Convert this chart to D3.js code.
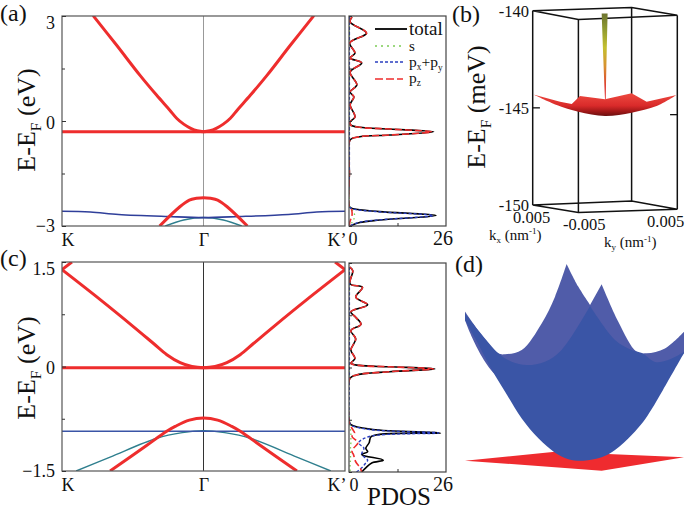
<!DOCTYPE html>
<html><head><meta charset="utf-8">
<script src="https://cdn.jsdelivr.net/npm/d3@7"></script>
<style>
html,body{margin:0;padding:0;background:#fff}
svg{display:block}
text{font-family:"Liberation Serif","Times New Roman",serif;fill:#111}
</style></head><body>
<script>
// --- Band structure panel (a)
const aUpperK=[-0.78,-0.615,-0.45,-0.332,-0.238,-0.19,-0.14,-0.09,-0.045,0,0.045,0.09,0.14,0.19,0.238,0.332,0.45,0.615,0.78];
const aUpperE=[3.01,2.17,1.31,0.74,0.31,0.08,-0.09,-0.21,-0.28,-0.305,-0.28,-0.21,-0.09,0.08,0.31,0.74,1.31,2.17,3.01];
const aFlatK=[-1,-0.5,0,0.5,1];
const aFlatE=[-0.31,-0.31,-0.305,-0.31,-0.31];
const aLowerK=[-0.31,-0.167,-0.1,-0.05,0,0.05,0.1,0.167,0.31];
const aLowerE=[-3,-2.45,-2.26,-2.21,-2.19,-2.21,-2.26,-2.45,-3];
const aBlueK=[-1,-0.8,-0.6,-0.25,0,0.25,0.6,0.8,1];
const aBlueE=[-2.58,-2.6,-2.67,-2.73,-2.76,-2.73,-2.67,-2.6,-2.58];
const aTealK=[-0.27,-0.14,0,0.14,0.27];
const aTealE=[-3,-2.83,-2.76,-2.83,-3];
// --- Band structure panel (c)
const cUpperK=[-1,-0.73,-0.494,-0.353,-0.259,-0.165,-0.082,0,0.082,0.165,0.259,0.353,0.494,0.73,1];
const cUpperE=[1.39,0.96,0.57,0.33,0.17,0.055,0,-0.017,0,0.055,0.17,0.33,0.57,0.96,1.39];
const cCornerLK=[-1,-0.93], cCornerLE=[1.39,1.5];
const cCornerRK=[0.93,1], cCornerRE=[1.5,1.39];
const cFlatK=[-1,0,1], cFlatE=[-0.017,-0.017,-0.017];
const cLowerK=[-0.66,-0.4,-0.26,-0.2,-0.1,0,0.1,0.2,0.26,0.4,0.66];
const cLowerE=[-1.5,-1.13,-0.93,-0.86,-0.77,-0.74,-0.77,-0.86,-0.93,-1.13,-1.5];
const cBlueK=[-1,0,1], cBlueE=[-0.93,-0.93,-0.93];
const cTealK=[-0.9,-0.66,-0.33,-0.15,0,0.15,0.33,0.66,0.9];
const cTealE=[-1.5,-1.30,-1.03,-0.95,-0.92,-0.95,-1.03,-1.30,-1.5];
// --- PDOS panel (a)
const aE=[2.97,2.83,2.51,2.23,1.94,1.8,1.66,1.4,1.03,.83,.69,.46,.12,-.03,-.11,-.18,-.23,-.31,-.40,-.45,-.54,-1.5,-2.45,-2.51,-2.59,-2.7,-2.83,-2.9,-3];
const aTotal=[.8,.3,4.7,.2,1.6,.3,3.4,.3,2.1,.3,1.3,.3,1.6,.3,.4,2.9,10.9,22.7,10.9,2.9,.3,.1,.1,1.2,8.2,23.3,8.2,2.9,.3];
const aPz=[.8,.3,4.7,.2,1.6,.3,3.4,.3,2.1,.3,1.3,.3,1.6,.3,.4,2.9,10.9,22.2,10.9,2.9,.3,.1,.1,.6,.8,.8,.4,.2,.1];
const aPxPy=[.1,.1,.1,.1,.1,.1,.1,.1,.1,.1,.1,.1,.1,.1,.1,.1,.1,.1,.1,.1,.1,.1,.1,1,7.6,22.5,7.6,2.5,.2];
const aS=[.05,.05,.05,.05,.05,.05,.05,.05,.05,.05,.05,.05,.05,.05,.05,.05,.05,.05,.05,.05,.05,.05,.2,.5,1.2,1.5,1.2,.8,.3];
// --- PDOS panel (c)
const cE=[1.44,1.39,1.2,1.15,1.01,.9,.8,.72,.62,.53,.41,.25,.13,.06,.03,.01,-.02,-.06,-.11,-.16,-.76,-.82,-.89,-.94,-.99,-1.08,-1.16,-1.21,-1.25,-1.33,-1.37,-1.44,-1.5];
const cTotal=[.2,1,.3,3.6,1.8,5,.5,1.8,3.2,.5,1.8,.5,1.6,.5,2.7,10.9,23,10.9,1.8,.2,0,.5,6.4,24.5,6,5.4,4.5,5,3.4,9.2,6.1,4.5,3.4];
const cPz=[.2,1,.3,3.6,1.8,5,.5,1.8,3.2,.5,1.8,.5,1.6,.5,2.7,10.9,22.6,10.9,1.8,.2,0,.2,1,1.5,.8,2.4,1.2,.8,1.2,1.6,2,3,3.4];
const cPxPy=[.1,.1,.1,.1,.1,.1,.1,.1,.1,.1,.1,.1,.1,.1,.1,.1,.1,.1,.1,.1,.1,.4,5.5,24,5.5,2.6,4,3.6,3.4,5,4.5,3.4,2];
const cS=[.05,.05,.05,.05,.05,.05,.05,.05,.05,.05,.05,.05,.05,.05,.05,.05,.05,.05,.05,.05,.1,.3,.4,.5,.5,.5,.4,.4,.4,.4,.3,.3,.3];
// --- Tick labels
const kLabels=["K","\u0393","K\u2019"];
const kTicks=[-1,0,1];
const aTicks=[-3,0,3], aMinor=[-1.5,1.5];
const cTicks=[-1.5,0,1.5], cMinor=[-0.75,0.75];
const legendNames=["total","s","px+py","pz"];
// --- Panel (b): outlines, [horizontal fraction of the box, energy in meV]
const bTopBox=[[0,-140],[.316,-140.45],[1,-140.24],[.684,-139.83]];
const bBotBox=[[0,-150],[.316,-150.38],[1,-150.22],[.684,-149.79]];
const bRim=[[.005,-144.31],[.189,-144.68],[.27,-144.80],[.327,-144.39],[.5,-144.56],[.684,-144.25],[.788,-144.68],[.995,-144.34]];
const bBelly=[[.995,-144.34],[.857,-144.91],[.684,-145.25],[.5,-145.42],[.316,-145.20],[.166,-144.85],[.005,-144.31]];
const bSpike=[[.477,-140.14],[.486,-142.02],[.495,-143.74],[.5,-144.56],[.505,-144.56],[.507,-143.74],[.512,-142.02],[.518,-140.14]];
const bETicks=[-140,-145,-150];
// --- Panel (d): outlines, [percent across, percent up]
const dBackA=[[0,75.8],[7.6,63.9],[15.2,54.6],[18.3,54.1],[25.9,56.3],[35,69.8],[41.1,83.4],[46.4,100]];
const dBackB=[[46.4,100],[51.7,88.5],[57.1,79.2]];
const dBackC=[[57.1,79.2],[62.4,89.7]];
const dBackD=[[62.4,89.7],[70,70.7],[78.4,55.4],[83,54.6],[91.3,57.1],[100,65.6]];
const dBackE=[[100,54.7],[85,40],[18,40],[0,71.5]];
const dFrontA=[[0,74.9],[15.2,54.6],[21.3,50.3],[28.2,48.6],[36.5,50.3],[44.1,56.3],[57.1,78.6]];
const dFrontB=[[57.1,78.6],[68.5,61.4],[76.1,56.3],[80.8,54.7],[86.8,50.2],[92.7,51.2],[100,55.3]];
const dBowl=[[100,54.7],[90.4,35.9],[85.2,26.1],[81.4,19.8],[76.1,13.1],[68.5,5.4],[62.4,1.7],[54,0],[47.2,0.8],[41.1,4.1],[33.5,11.4],[25.9,21.5],[18.3,35.1],[12.3,46.1],[4.6,62.2],[0,71.5]];
const dPlane=[[0,0],[41.1,4.6],[100,1.7],[62.4,-5.1]];

const RED="#ee2d2d",BLUE="#2f3f9a",TEAL="#2f7f8e";
const svg=d3.select("body").append("svg").attr("width",685).attr("height",510);
const defs=svg.append("defs");
const smooth=d3.curveCatmullRom.alpha(0.5);

function bandPanel(id,top,bottom,dom,ticks,minor,bands,gammaColor){
  const x=d3.scaleLinear([-1,1],[62,345]);
  const y=d3.scaleLinear(dom,[bottom,top]);
  defs.append("clipPath").attr("id",id).append("rect").attr("x",62).attr("y",top).attr("width",283).attr("height",bottom-top);
  const g=svg.append("g");
  const line=d3.line().x(d=>x(d[0])).y(d=>y(d[1])).curve(smooth);
  const gl=g.append("g").attr("clip-path",`url(#${id})`);
  gl.append("line").attr("x1",x(0)).attr("x2",x(0)).attr("y1",top).attr("y2",bottom).attr("stroke",gammaColor).attr("stroke-width",1);
  bands.forEach(b=>{
    gl.append("path").datum(d3.zip(b.k,b.e)).attr("d",line).attr("fill","none").attr("stroke",b.c).attr("stroke-width",b.w);
  });
  g.append("rect").attr("x",62).attr("y",top).attr("width",283).attr("height",bottom-top).attr("fill","none").attr("stroke","#555").attr("stroke-width",1.2);
  const ax=g.append("g").attr("transform","translate(62,0)").call(d3.axisLeft(y).tickValues(ticks).tickSize(-4).tickPadding(7).tickFormat(d=>d3.format("")(d)));
  ax.select(".domain").remove();
  ax.selectAll("text").style("font-size","18px").attr("fill","#111").attr("dy",(d,i)=>i===2?"0.71em":(i===0?"0.3em":"0.4em"));
  ax.selectAll("line").attr("stroke","#333");
  const mi=g.append("g").attr("transform","translate(62,0)").call(d3.axisLeft(y).tickValues(minor).tickSize(-3).tickFormat(""));
  mi.select(".domain").remove(); mi.selectAll("line").attr("stroke","#333");
  const bx=g.append("g").attr("transform",`translate(0,${bottom})`).call(d3.axisBottom(x).tickValues(kTicks).tickSize(0).tickPadding(7).tickFormat((d,i)=>kLabels[i]));
  bx.select(".domain").remove();
  bx.selectAll("text").style("font-size","18px").attr("fill","#111")
    .attr("text-anchor",(d,i)=>i===0?"start":i===2?"end":"middle")
    .attr("dx",(d,i)=>i===0?-1:i===2?1:0);
}
bandPanel("ca",16,226,[-3,3],aTicks,aMinor,[
 {k:aTealK,e:aTealE,c:TEAL,w:1.5},{k:aBlueK,e:aBlueE,c:BLUE,w:1.6},
 {k:aFlatK,e:aFlatE,c:RED,w:3},{k:aUpperK,e:aUpperE,c:RED,w:3},{k:aLowerK,e:aLowerE,c:RED,w:3}],"#999");
bandPanel("cc",262,471,[-1.5,1.5],cTicks,cMinor,[
 {k:cTealK,e:cTealE,c:TEAL,w:1.4},{k:cBlueK,e:cBlueE,c:"#3a55a6",w:1.6},
 {k:cFlatK,e:cFlatE,c:RED,w:3},{k:cUpperK,e:cUpperE,c:RED,w:3},{k:cLowerK,e:cLowerE,c:RED,w:3},
 {k:cCornerLK,e:cCornerLE,c:RED,w:3},{k:cCornerRK,e:cCornerRE,c:RED,w:3}],"#333");

function pdosPanel(id,top,bottom,dom,minor,E,series){
  const x=d3.scaleLinear([0,26],[349,446]);
  const y=d3.scaleLinear(dom,[bottom,top]);
  defs.append("clipPath").attr("id",id).append("rect").attr("x",349).attr("y",top).attr("width",97).attr("height",bottom-top);
  const g=svg.append("g");
  const line=d3.line().x(d=>x(d[0])).y(d=>y(d[1])).curve(smooth);
  const gl=g.append("g").attr("clip-path",`url(#${id})`);
  series.forEach(s=>{
    gl.append("path").datum(d3.zip(s.v,E)).attr("d",line).attr("fill","none").attr("stroke",s.c).attr("stroke-width",s.w).attr("stroke-dasharray",s.d);
  });
  g.append("rect").attr("x",349).attr("y",top).attr("width",97).attr("height",bottom-top).attr("fill","none").attr("stroke","#444").attr("stroke-width",1.2);
  const t=g.append("g").attr("transform",`translate(349,0)`).call(d3.axisLeft(y).tickValues(minor).tickSize(-3).tickFormat(""));
  t.select(".domain").remove(); t.selectAll("line").attr("stroke","#333");
  const bx=g.append("g").attr("transform",`translate(0,${bottom})`).call(d3.axisBottom(x).tickValues([13]).tickSize(-3).tickFormat(""));
  bx.select(".domain").remove(); bx.selectAll("line").attr("stroke","#333");
  return g;
}
const GREEN="#7ccc55",PB="#2b3fc0",PR="#ee2d2d";
pdosPanel("pa",16,226,[-3,3],aTicks.concat(aMinor),aE,[
 {v:aTotal,c:"#000",w:1.6,d:null},{v:aS,c:GREEN,w:1.3,d:"1.5 3"},{v:aPxPy,c:PB,w:1.4,d:"3 2"},{v:aPz,c:PR,w:1.6,d:"7 3"}]);
pdosPanel("pc",263,472,[-1.5,1.5],cTicks.concat(cMinor),cE,[
 {v:cTotal,c:"#000",w:1.6,d:null},{v:cS,c:GREEN,w:1.3,d:"1.5 3"},{v:cPxPy,c:PB,w:1.4,d:"3 2"},{v:cPz,c:PR,w:1.6,d:"7 3"}]);

function txt(x,y,s,size,anchor){return svg.append("text").attr("x",x).attr("y",y).style("font-size",size+"px").attr("text-anchor",anchor||"start").text(s);}
function txtSub(x,y,parts,size,rot,anchor){
  const t=svg.append("text").style("font-size",size+"px").attr("text-anchor",anchor||"start");
  if(rot) t.attr("transform",`translate(${x},${y}) rotate(-90)`); else t.attr("x",x).attr("y",y);
  parts.forEach(p=>{
    const ts=t.append("tspan").text(p[0]);
    if(p[1]==="sub") ts.style("font-size",(size*0.6)+"px").attr("dy",size*0.22);
    else if(p[1]==="sup") ts.style("font-size",(size*0.6)+"px").attr("dy",-size*0.35);
    else if(p[2]) ts.attr("dy",p[2]);
  });
  return t;
}
// Legend
const legendY=[29,46,62,79],legendC=["#000",GREEN,PB,PR],legendD=[null,"2 4","3 2","8 3"],legendW=[1.8,1.4,1.3,1.5];
legendNames.forEach((n,i)=>svg.append("line").attr("x1",375).attr("x2",i==0?407:403).attr("y1",legendY[i]).attr("y2",legendY[i]).attr("stroke",legendC[i]).attr("stroke-width",legendW[i]).attr("stroke-dasharray",legendD[i]));
txt(409,35,"total",19);
txt(409,51,"s",15);
txtSub(409,67,[["p"],["x","sub"],["+p",null,-3.3],["y","sub"]],15.5);
txtSub(409,83,[["p"],["z","sub"]],15.5);
// Panel letters
txt(0,21,"(a)",24);
txt(0,266,"(c)",24);
txt(452,22,"(b)",24);
txt(455,272,"(d)",24);
// Titles
txtSub(35,120,[["E-E"],["F","sub"],[" (eV)",null,-5.7]],26,true,"middle");
txtSub(35,368,[["E-E"],["F","sub"],[" (eV)",null,-5.7]],26,true,"middle");
txtSub(485,107,[["E-E"],["F","sub"],[" (meV)",null,-5.7]],26,true,"middle");
txt(399,504.5,"PDOS",25,"middle");
// PDOS tick labels
txt(353,245,"0",18,"middle");txt(443,245,"26",20,"middle");
txt(354,491,"0",18,"middle");txt(443,491,"26",20,"middle");

// Panel (b)
const bx=d3.scaleLinear([0,1],[532.7,677.3]);
const by=d3.scaleLinear([-140,-150],[10.7,205]);
const bLine=d3.line().x(d=>bx(d[0])).y(d=>by(d[1]));
const bSmooth=d3.line().x(d=>bx(d[0])).y(d=>by(d[1])).curve(smooth);
const bg=svg.append("g");
[bTopBox,bBotBox].forEach(c=>bg.append("path").attr("d",bLine(c)+"Z").attr("fill","none").attr("stroke","#111").attr("stroke-width",1.5));
bTopBox.forEach((c,i)=>bg.append("path").attr("d",bLine([c,bBotBox[i]])).attr("stroke","#111").attr("stroke-width",1.5));
const sg=defs.append("linearGradient").attr("id","surf").attr("gradientUnits","userSpaceOnUse").attr("x1",0).attr("x2",0).attr("y1",by(-144.25)).attr("y2",by(-145.42));
[[0,"#ee4a40"],[.55,"#d92a2a"],[.8,"#a01818"],[1,"#6a1010"]].forEach(s=>sg.append("stop").attr("offset",s[0]).attr("stop-color",s[1]));
const sp=defs.append("linearGradient").attr("id","spike").attr("gradientUnits","userSpaceOnUse").attr("x1",0).attr("x2",0).attr("y1",by(-140.14)).attr("y2",by(-144.56));
[[0,"#6d7430"],[.18,"#8f9a30"],[.4,"#c4c030"],[.62,"#d89030"],[.85,"#dd3a30"],[1,"#dd2a2a"]].forEach(s=>sp.append("stop").attr("offset",s[0]).attr("stop-color",s[1]));
bg.append("path").attr("d",bLine(bRim)+bSmooth(bBelly).replace(/^M/,"L")+"Z").attr("fill","url(#surf)");
bg.append("path").attr("d",bLine(bSpike)+"Z").attr("fill","url(#spike)");
bETicks.forEach(v=>{ txt(529,by(v)+6,String(v),16.5,"end"); });
bg.append("line").attr("x1",bx(0)).attr("x2",bx(.05)).attr("y1",by(-145)).attr("y2",by(-145)).attr("stroke","#111").attr("stroke-width",1.3);
bg.append("line").attr("x1",bx(.95)).attr("x2",bx(1)).attr("y1",by(-145.35)).attr("y2",by(-145.35)).attr("stroke","#111").attr("stroke-width",1.3);
txt(513,223,"0.005",16.5);
txt(563,230,"-0.005",16.5);
txt(647,227,"0.005",16.5);
txtSub(489,239.5,[["k"],["x","sub"],[" (nm",null,-3.3],["-1","sup"],[")",null,5.3]],15);
txtSub(604,247,[["k"],["y","sub"],[" (nm",null,-3.3],["-1","sup"],[")",null,5.3]],15);

// Panel (d)
const dx=d3.scaleLinear([0,100],[465,684]);
const dy=d3.scaleLinear([0,100],[460.7,264]);
const dL=d3.line().x(d=>dx(d[0])).y(d=>dy(d[1])).curve(smooth);
const poly=segs=>segs.map((s,i)=>{const p=dL(s);return i?p.replace(/^M/,"L"):p;}).join("")+"Z";
const dg=svg.append("g");
dg.append("path").attr("d",d3.line().x(d=>dx(d[0])).y(d=>dy(d[1]))(dPlane)+"Z").attr("fill","#ef2b2f");
dg.append("path").attr("d",poly([dBackA,dBackB,dBackC,dBackD,[[100,65.6],[100,54.7]],dBackE])).attr("fill","#505ca9");
dg.append("path").attr("d",poly([dFrontA,dFrontB,dBowl])).attr("fill","#3a55a6");
</script></body></html>
